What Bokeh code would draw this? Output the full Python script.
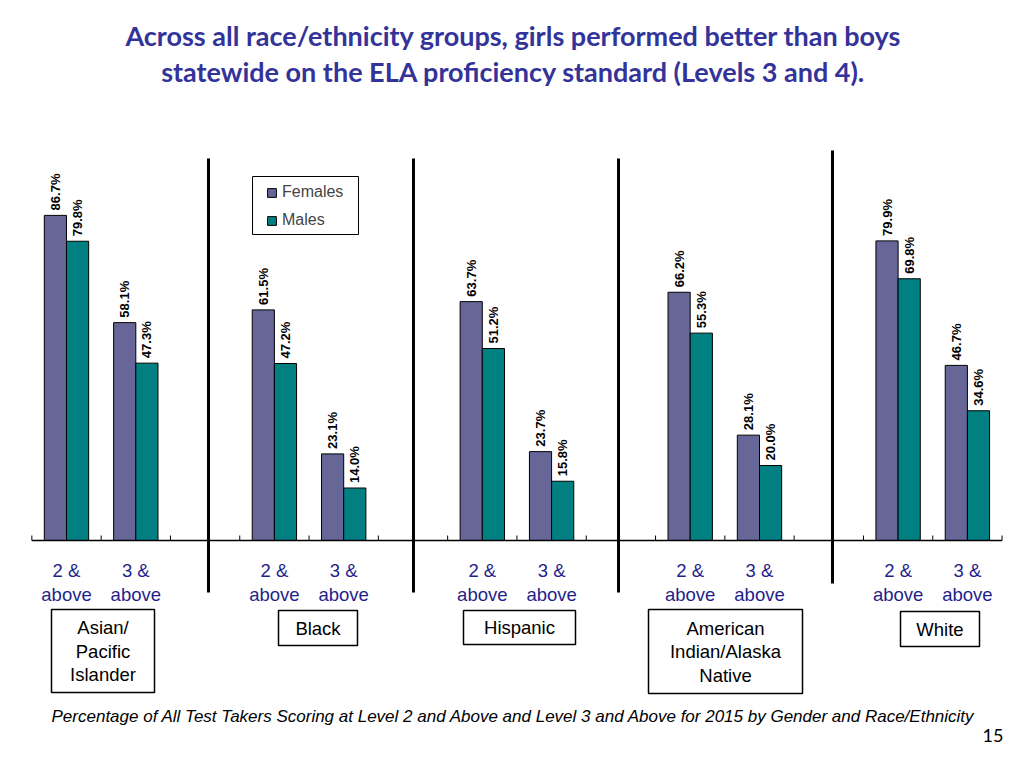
import math
from bokeh.plotting import figure
from bokeh.models import Range1d, Legend
from bokeh.core.properties import value
from bokeh.embed import file_html
from bokeh.resources import INLINE

# ---------------- data ----------------
groups = ["Asian/\nPacific\nIslander", "Black", "Hispanic",
          "American\nIndian/Alaska\nNative", "White"]
levels = ["2 &\nabove", "3 &\nabove"]
females = [86.7, 58.1, 61.5, 23.1, 63.7, 23.7, 66.2, 28.1, 79.9, 46.7]
males = [79.8, 47.3, 47.2, 14.0, 51.2, 15.8, 55.3, 20.0, 69.8, 34.6]
title_lines = ["Across all race/ethnicity groups, girls performed better than boys",
               "statewide on the ELA proficiency standard (Levels 3 and 4)."]
footnote = ("Percentage of All Test Takers Scoring at Level 2 and Above and Level 3 "
            "and Above for 2015 by Gender and Race/Ethnicity")
page_no = "15"

FEM_COLOR = "#666699"
MALE_COLOR = "#008080"
CAT_COLOR = "#1F1F8C"
TITLE_COLOR = "#333399"

# ---------------- layout helpers (image pixel -> data) ----------------
W, H = 1008, 752
ORIGIN = 0                       # page offset of the figure as photographed
X0_PX, SLOT_PX = 66.0, 69.3      # centre of slot 0, slot width
BASE_PX, PX_PER_PCT = 540.0, 3.75


def X(px):
    return (px - X0_PX) / SLOT_PX


def Y(py):
    return (BASE_PX - py) / PX_PER_PCT


# slot index of each category: 3 slots per group (2&, 3&, gap)
slots = [3 * g + l for g in range(len(groups)) for l in range(len(levels))]
BAR_W = 0.32
fem_x = [s - BAR_W / 2 for s in slots]
male_x = [s + BAR_W / 2 for s in slots]

p = figure(width=W, height=H,
           x_range=Range1d(X(ORIGIN), X(ORIGIN + W)),
           y_range=Range1d(Y(ORIGIN + H), Y(ORIGIN)),
           x_axis_type=None, y_axis_type=None,
           output_backend="svg", toolbar_location=None, min_border=0)
p.grid.visible = False
p.outline_line_color = None
p.background_fill_color = "white"
p.border_fill_color = "white"

# bars
rf = p.vbar(x=fem_x, top=females, bottom=0, width=BAR_W,
            fill_color=FEM_COLOR, line_color="black", line_width=1)
rm = p.vbar(x=male_x, top=males, bottom=0, width=BAR_W,
            fill_color=MALE_COLOR, line_color="black", line_width=1)

# value labels (rotated)
lab_font = value("Liberation Sans")
p.text(x=fem_x, y=females, text=["%.1f%%" % v for v in females],
       angle=math.pi / 2, text_align="left", text_baseline="middle",
       y_offset=-5, text_font=lab_font, text_font_size="13px",
       text_font_style="bold", text_color="black")
p.text(x=male_x, y=males, text=["%.1f%%" % v for v in males],
       angle=math.pi / 2, text_align="left", text_baseline="middle",
       y_offset=-5, text_font=lab_font, text_font_size="13px",
       text_font_style="bold", text_color="black")

# x axis line and ticks
n_slots = len(slots) + len(groups) - 1   # 14
bounds = [k - 0.5 for k in range(n_slots + 1)]
p.line(x=[bounds[0], bounds[-1]], y=[0, 0], line_color="black", line_width=1.3)
p.segment(x0=bounds, y0=[0] * len(bounds), x1=bounds, y1=[5 / PX_PER_PCT] * len(bounds),
          line_color="black", line_width=1)

# group separators
sep_px = [208, 413, 618, 832]
sep_top = [158, 158, 158, 150]
sep_bot = [592, 592, 592, 583]
p.segment(x0=[X(v) for v in sep_px], y0=[Y(v) for v in sep_top],
          x1=[X(v) for v in sep_px], y1=[Y(v) for v in sep_bot],
          line_color="black", line_width=3)

# category labels
cat_x, cat_top, cat_bot = [], [], []
for g in range(len(groups)):
    for l, lev in enumerate(levels):
        a, b = lev.split("\n")
        cat_x.append(3 * g + l)
        cat_top.append(a)
        cat_bot.append(b)
p.text(x=cat_x, y=[Y(570)] * len(cat_x), text=cat_top, text_align="center",
       text_baseline="middle", text_font=lab_font, text_font_size="18.5px",
       text_color=CAT_COLOR)
p.text(x=cat_x, y=[Y(594)] * len(cat_x), text=cat_bot, text_align="center",
       text_baseline="middle", text_font=lab_font, text_font_size="18.5px",
       text_color=CAT_COLOR)

# group boxes (left, right, top, bottom in image px)
box_geo = [(51, 154, 609, 692), (278, 357, 610, 645), (463, 575, 610, 644),
           (648, 802, 609, 693), (900, 979, 611, 646)]
p.quad(left=[X(b[0]) for b in box_geo], right=[X(b[1]) for b in box_geo],
       top=[Y(b[2]) for b in box_geo], bottom=[Y(b[3]) for b in box_geo],
       fill_color="white", line_color="black", line_width=1.5)
gx, gy, gt = [], [], []
for g, b in zip(groups, box_geo):
    lines = g.split("\n")
    cx = (b[0] + b[1]) / 2
    cy = (b[2] + b[3]) / 2
    n = len(lines)
    for i, t in enumerate(lines):
        gx.append(X(cx))
        gy.append(Y(cy + (i - (n - 1) / 2) * 23.5))
        gt.append(t)
p.text(x=gx, y=gy, text=gt, text_align="center", text_baseline="middle",
       text_font=lab_font, text_font_size="18.5px", text_color="black")

# title
p.text(x=[X(513), X(513)], y=[Y(35), Y(71)], text=title_lines,
       text_align="center", text_baseline="middle", text_font=value("Lato"),
       text_font_size="27px", text_font_style="bold", text_color=TITLE_COLOR)

# footnote and page number
p.text(x=[X(513)], y=[Y(716)], text=[footnote], text_align="center",
       text_baseline="middle", text_font=lab_font,
       text_font_size="17px", text_font_style="italic", text_color="black")
p.text(x=[X(1003)], y=[Y(735)], text=[page_no], text_align="right",
       text_baseline="middle", text_font=value("Lato"),
       text_font_size="18px", text_color="black")

# legend frame
p.quad(left=[X(252)], right=[X(358)], top=[Y(176)], bottom=[Y(234)],
       fill_color="white", line_color="black", line_width=1)
legend = Legend(items=[("Females", [rf]), ("Males", [rm])],
                location=(266 - ORIGIN, ORIGIN + H - 229.5), orientation="vertical",
                label_text_font="Liberation Sans", label_text_font_size="16px",
                glyph_width=11, glyph_height=11, label_standoff=5,
                label_width=60, label_height=19, spacing=9, padding=6, margin=0,
                border_line_color=None,
                background_fill_alpha=0)
p.add_layout(legend)

open("out.html", "w").write(file_html(p, INLINE))
